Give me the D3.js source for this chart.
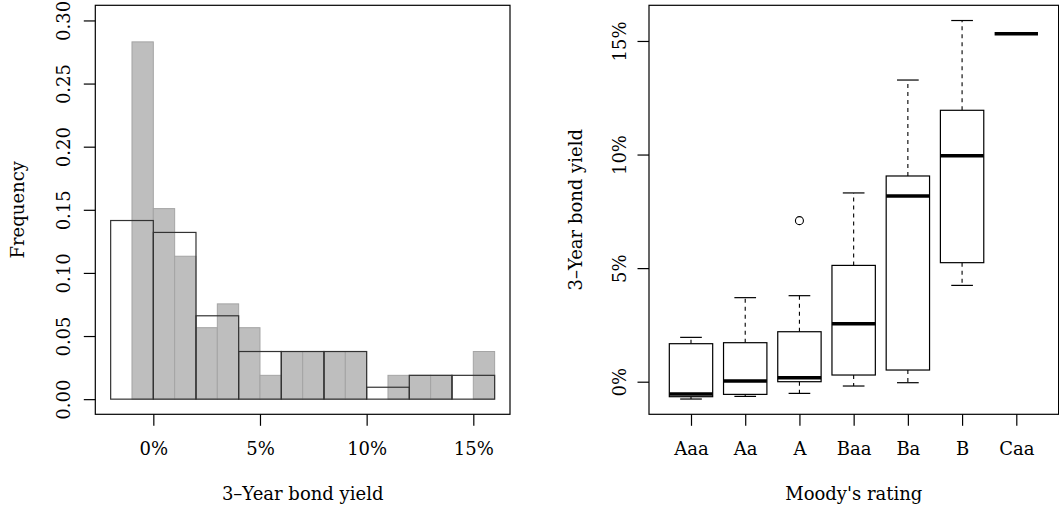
<!DOCTYPE html>
<html>
<head>
<meta charset="utf-8">
<script src="https://cdn.jsdelivr.net/npm/d3@7"></script>
<style>
  html, body { margin: 0; padding: 0; background: #fff; }
  svg { display: block; }
  text { font-family: "DejaVu Serif", serif; font-size: 18px; fill: #000; }
</style>
</head>
<body>
<svg id="chart" width="1059" height="512"></svg>
<script>
// --- histogram data: 3-year bond yields (%), n = 53 ---
const yieldN = 53;
const fineBreaks = [-1, 0, 1, 2, 3, 4, 5, 6, 7, 8, 9, 10, 11, 12, 13, 14, 15, 16];
const fineCounts = [15, 8, 6, 3, 4, 3, 1, 2, 2, 2, 2, 0, 1, 1, 1, 0, 2];
const coarseBreaks = [-2, 0, 2, 4, 6, 8, 10, 12, 14, 16];
const coarseCounts = [15, 14, 7, 4, 4, 4, 1, 2, 2];
const histXTicks = [0, 5, 10, 15];
const histYTicks = [0, 0.05, 0.10, 0.15, 0.20, 0.25, 0.30];

// --- boxplot data: yield (%) by Moody's rating ---
const ratings = ["Aaa", "Aa", "A", "Baa", "Ba", "B", "Caa"];
const lowerWhisker = [-0.763, -0.646, -0.514, -0.19, -0.044, 4.24, 15.32];
const lowerHinge   = [-0.66, -0.558, 0.0, 0.294, 0.514, 5.24, 15.32];
const medianYield  = [-0.543, 0.03, 0.176, 2.554, 8.18, 9.95, 15.32];
const upperHinge   = [1.673, 1.717, 2.20, 5.12, 9.056, 11.948, 15.32];
const upperWhisker = [1.952, 3.70, 3.787, 8.31, 13.28, 15.90, 15.32];
const outlierRating = ["A"];
const outlierYield = [7.09];
const boxYTicks = [0, 5, 10, 15];

const FONT = "18px";
const svg = d3.select("#chart");
svg.append("rect").attr("width", 1059).attr("height", 512).attr("fill", "#fff");

const pct = d => d + "%";
const tickLen = 11.5;

// ================= left panel: overlaid histograms =================
const L = { left: 95.3, right: 510, top: 5.3, bottom: 414.3 };
const hx = d3.scaleLinear().domain([-2.72, 16.72]).range([L.left, L.right]);
const hy = d3.scaleLinear().domain([-0.012, 0.312]).range([L.bottom, L.top]);

const toBins = (breaks, counts) => counts.map((c, i) => ({
  x0: breaks[i], x1: breaks[i + 1],
  density: c / (yieldN * (breaks[i + 1] - breaks[i]))
}));
const fineBins = toBins(fineBreaks, fineCounts);
const coarseBins = toBins(coarseBreaks, coarseCounts);

const gL = svg.append("g");
// 1%-wide bins, grey
gL.selectAll("rect.fine").data(fineBins.filter(b => b.density > 0)).join("rect")
  .attr("class", "fine")
  .attr("x", d => hx(d.x0)).attr("width", d => hx(d.x1) - hx(d.x0))
  .attr("y", d => hy(d.density)).attr("height", d => hy(0) - hy(d.density))
  .attr("fill", "#bebebe").attr("stroke", "#a4a4a4").attr("stroke-width", 1);
// 2%-wide bins, outlined
gL.selectAll("rect.coarse").data(coarseBins).join("rect")
  .attr("class", "coarse")
  .attr("x", d => hx(d.x0)).attr("width", d => hx(d.x1) - hx(d.x0))
  .attr("y", d => hy(d.density)).attr("height", d => hy(0) - hy(d.density))
  .attr("fill", "none").attr("stroke", "#333").attr("stroke-width", 1.2);

// frame
gL.append("rect").attr("x", L.left).attr("y", L.top)
  .attr("width", L.right - L.left).attr("height", L.bottom - L.top)
  .attr("fill", "none").attr("stroke", "#000").attr("stroke-width", 1.2);

// x axis
const xAxisL = d3.axisBottom(hx).tickValues(histXTicks).tickFormat(pct)
  .tickSize(tickLen).tickSizeOuter(0);
const gxL = svg.append("g").attr("transform", `translate(0,${L.bottom})`).call(xAxisL);
gxL.select(".domain").remove();
gxL.selectAll("line").attr("stroke", "#000").attr("stroke-width", 1.2);
gxL.selectAll("text").attr("y", null).attr("dy", null)
  .attr("transform", `translate(0,${455 - L.bottom})`)
  .style("font-family", "DejaVu Serif").style("font-size", FONT);

// y axis
const yAxisL = d3.axisLeft(hy).tickValues(histYTicks).tickFormat(d3.format(".2f"))
  .tickSize(tickLen).tickSizeOuter(0);
const gyL = svg.append("g").attr("transform", `translate(${L.left},0)`).call(yAxisL);
gyL.select(".domain").remove();
gyL.selectAll("line").attr("stroke", "#000").attr("stroke-width", 1.2);
gyL.selectAll("text").attr("x", null).attr("dy", null)
  .attr("text-anchor", "middle")
  .attr("transform", `translate(${69.5 - L.left},0) rotate(-90)`)
  .style("font-family", "DejaVu Serif").style("font-size", FONT);

svg.append("text").attr("x", (L.left + L.right) / 2).attr("y", 500)
  .attr("text-anchor", "middle").text("3–Year bond yield");
svg.append("text").attr("transform", `translate(23.5,${(L.top + L.bottom) / 2}) rotate(-90)`)
  .attr("text-anchor", "middle").text("Frequency");

// ================= right panel: boxplots by rating =================
const R = { left: 649, right: 1058.6, top: 5.3, bottom: 414.3 };
const bx = d3.scalePoint().domain(ratings).range([691, 1016.3]);
const step = bx.step();
const by = d3.scaleLinear().domain([-1.435, 16.57]).range([R.bottom, R.top]);

const boxes = ratings.map((r, i) => ({
  rating: r, lw: lowerWhisker[i], lh: lowerHinge[i], med: medianYield[i],
  uh: upperHinge[i], uw: upperWhisker[i]
}));

const gR = svg.append("g");
const boxW = step * 0.8, capW = step * 0.4;
const bg = gR.selectAll("g.box").data(boxes).join("g").attr("class", "box")
  .attr("transform", d => `translate(${bx(d.rating)},0)`);

// whiskers (dashed)
bg.append("line").attr("x1", 0).attr("x2", 0)
  .attr("y1", d => by(d.uh)).attr("y2", d => by(d.uw))
  .attr("stroke", "#000").attr("stroke-dasharray", "4,4").attr("stroke-width", 1.1);
bg.append("line").attr("x1", 0).attr("x2", 0)
  .attr("y1", d => by(d.lh)).attr("y2", d => by(d.lw))
  .attr("stroke", "#000").attr("stroke-dasharray", "4,4").attr("stroke-width", 1.1);
// caps
bg.append("line").attr("x1", -capW / 2).attr("x2", capW / 2)
  .attr("y1", d => by(d.uw)).attr("y2", d => by(d.uw))
  .attr("stroke", "#000").attr("stroke-width", 1.2);
bg.append("line").attr("x1", -capW / 2).attr("x2", capW / 2)
  .attr("y1", d => by(d.lw)).attr("y2", d => by(d.lw))
  .attr("stroke", "#000").attr("stroke-width", 1.2);
// boxes
bg.append("rect").attr("x", -boxW / 2).attr("width", boxW)
  .attr("y", d => by(d.uh)).attr("height", d => by(d.lh) - by(d.uh))
  .attr("fill", "#fff").attr("stroke", "#000").attr("stroke-width", 1.2);
// medians
bg.append("line").attr("x1", -boxW / 2).attr("x2", boxW / 2)
  .attr("y1", d => by(d.med)).attr("y2", d => by(d.med))
  .attr("stroke", "#000").attr("stroke-width", 3.5);

// outliers
gR.selectAll("circle.out").data(outlierYield).join("circle").attr("class", "out")
  .attr("cx", (d, i) => bx(outlierRating[i])).attr("cy", d => by(d)).attr("r", 4)
  .attr("fill", "none").attr("stroke", "#000").attr("stroke-width", 1.1);

// frame
gR.append("rect").attr("x", R.left).attr("y", R.top)
  .attr("width", R.right - R.left).attr("height", R.bottom - R.top)
  .attr("fill", "none").attr("stroke", "#000").attr("stroke-width", 1.2);

// x axis
const xAxisR = d3.axisBottom(bx).tickSize(tickLen).tickSizeOuter(0);
const gxR = svg.append("g").attr("transform", `translate(0,${R.bottom})`).call(xAxisR);
gxR.select(".domain").remove();
gxR.selectAll("line").attr("stroke", "#000").attr("stroke-width", 1.2);
gxR.selectAll("text").attr("y", null).attr("dy", null)
  .attr("transform", `translate(0,${455 - R.bottom})`)
  .style("font-family", "DejaVu Serif").style("font-size", FONT);

// y axis
const yAxisR = d3.axisLeft(by).tickValues(boxYTicks).tickFormat(pct)
  .tickSize(tickLen).tickSizeOuter(0);
const gyR = svg.append("g").attr("transform", `translate(${R.left},0)`).call(yAxisR);
gyR.select(".domain").remove();
gyR.selectAll("line").attr("stroke", "#000").attr("stroke-width", 1.2);
gyR.selectAll("text").attr("x", null).attr("dy", null)
  .attr("text-anchor", "middle")
  .attr("transform", `translate(${626 - R.left},0) rotate(-90)`)
  .style("font-family", "DejaVu Serif").style("font-size", FONT);

svg.append("text").attr("x", (R.left + R.right) / 2).attr("y", 500)
  .attr("text-anchor", "middle").text("Moody's rating");
svg.append("text").attr("transform", `translate(582,${(R.top + R.bottom) / 2}) rotate(-90)`)
  .attr("text-anchor", "middle").text("3–Year bond yield");
</script>
</body>
</html>
